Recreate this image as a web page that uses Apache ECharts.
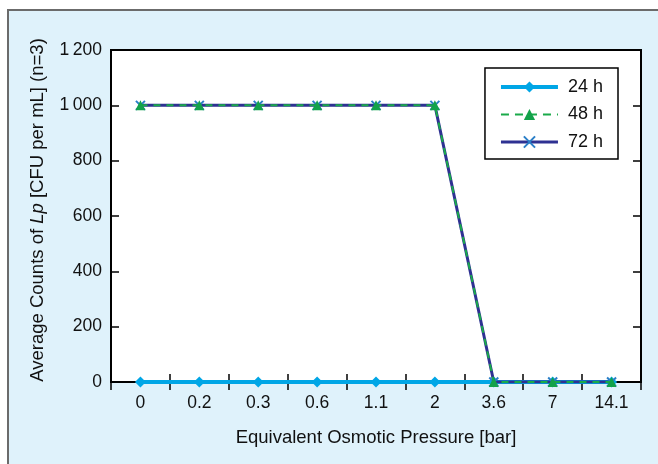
<!doctype html>
<html>
<head>
<meta charset="utf-8"/>
<title>Lp counts vs osmotic pressure</title>
<script src="https://cdn.jsdelivr.net/npm/echarts@6/dist/echarts.min.js"></script>
<style>
body { margin: 0; background: #fff; }
#chart { width: 658px; height: 464px; }
</style>
</head>
<body>
<div id="chart"></div>
<script>
// data
const pressures = ['0', '0.2', '0.3', '0.6', '1.1', '2', '3.6', '7', '14.1'];
const counts24h = [0, 0, 0, 0, 0, 0, 0, 0, 0];
const counts48h = [1000, 1000, 1000, 1000, 1000, 1000, 0, 0, 0];
const counts72h = [1000, 1000, 1000, 1000, 1000, 1000, 0, 0, 0];

const FONT = 'Liberation Sans';
const crossPath = 'path://M0,0L10,10M10,0L0,10';

const chart = echarts.init(document.getElementById('chart'), null, {renderer: 'canvas'});

const tickStyle = {show: true, inside: true, length: 8, lineStyle: {color: '#000', width: 1.5}};

chart.setOption({
    animation: false,
    graphic: [{
        type: 'rect',
        shape: {x: 8, y: 10, width: 700, height: 500},
        style: {fill: '#dff2fb', stroke: '#6b6b6b', lineWidth: 2},
        z: -10
    }],
    grid: {
        left: 111, top: 50, right: 17, bottom: 82,
        show: true, backgroundColor: '#fff', borderColor: '#000', borderWidth: 2
    },
    legend: {
        right: 40, top: 68,
        orient: 'vertical',
        itemWidth: 57, itemHeight: 14, itemGap: 9.5,
        padding: [10, 15, 8, 14],
        borderColor: '#000', borderWidth: 1.5, backgroundColor: '#fff',
        textStyle: {fontFamily: FONT, fontSize: 18, color: '#111', padding: [0, 0, 0, 5]},
        data: [
            {name: '24 h', lineStyle: {width: 4}},
            {name: '48 h', lineStyle: {width: 2, type: [8, 6]}},
            {name: '72 h', lineStyle: {width: 3}}
        ]
    },
    xAxis: [{
        type: 'category',
        data: pressures,
        boundaryGap: true,
        axisLine: {show: false},
        axisTick: tickStyle,
        axisLabel: {fontFamily: FONT, fontSize: 17.5, color: '#111', margin: 12},
        name: 'Equivalent Osmotic Pressure [bar]',
        nameLocation: 'middle', nameGap: 46,
        nameTextStyle: {fontFamily: FONT, fontSize: 18.5, color: '#111'}
    }, {
        type: 'category',
        data: pressures,
        position: 'top',
        boundaryGap: true,
        axisLine: {show: false},
        axisTick: tickStyle,
        axisLabel: {show: false}
    }],
    yAxis: [{
        type: 'value',
        min: 0, max: 1200, interval: 200,
        axisLine: {show: false},
        axisTick: tickStyle,
        splitLine: {show: false},
        axisLabel: {
            fontFamily: FONT, fontSize: 17.5, color: '#111', margin: 9,
            formatter: v => v >= 1000 ? String(v).replace(/(\d)(\d{3})$/, '$1\u2009$2') : String(v)
        },
        name: '{a|Average Counts of }{i|Lp}{a| [CFU per mL] (n=3)}',
        nameLocation: 'middle', nameGap: 64,
        nameTextStyle: {
            padding: [0, 0, 0, 12],
            rich: {
                a: {fontFamily: FONT, fontSize: 18.5, color: '#111'},
                i: {fontFamily: FONT, fontSize: 18.5, color: '#111', fontStyle: 'italic'}
            }
        }
    }, {
        type: 'value',
        position: 'right',
        min: 0, max: 1200, interval: 200,
        axisLine: {show: false},
        axisTick: tickStyle,
        splitLine: {show: false},
        axisLabel: {show: false}
    }],
    series: [{
        name: '24 h',
        type: 'line',
        data: counts24h,
        symbol: 'diamond', symbolSize: 11,
        itemStyle: {color: '#00a6e6'},
        lineStyle: {color: '#00a6e6', width: 4},
        z: 3
    }, {
        name: '72 h',
        type: 'line',
        data: counts72h,
        symbol: crossPath, symbolSize: 9,
        itemStyle: {color: '#2b7fc8', borderColor: '#2b7fc8', borderWidth: 2},
        lineStyle: {color: '#2e3192', width: 3},
        z: 4
    }, {
        name: '48 h',
        type: 'line',
        data: counts48h,
        symbol: 'triangle', symbolSize: 10,
        itemStyle: {color: '#13a24a'},
        lineStyle: {color: '#1aaa4a', width: 2, type: [7, 6]},
        z: 5
    }]
});
</script>
</body>
</html>
